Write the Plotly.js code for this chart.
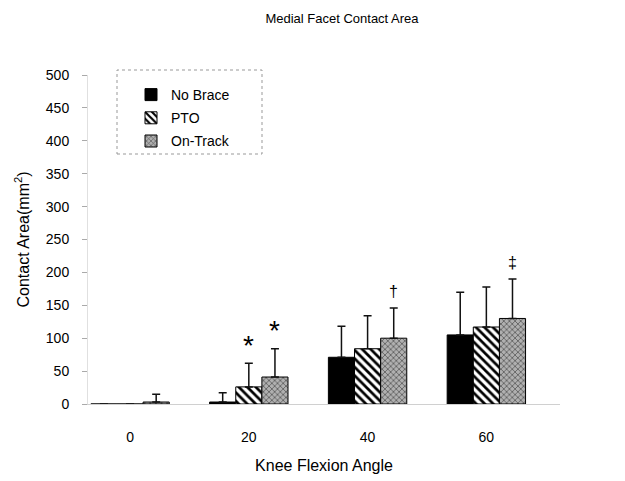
<!DOCTYPE html>
<html>
<head>
<meta charset="utf-8">
<script src="https://cdn.plot.ly/plotly-3.0.1.min.js"></script>
<style>html,body{margin:0;padding:0;background:#fff;}#chart{width:625px;height:481px;}</style>
</head>
<body>
<div id="chart"></div>
<script>
const angles = ["0", "20", "40", "60"];
const seriesNames = ["No Brace", "PTO", "On-Track"];
const noBrace = [0, 3, 71, 105];
const noBraceSD = [0, 14, 47, 65];
const pto = [0, 26, 84, 117];
const ptoSD = [0, 36, 50, 61];
const onTrack = [3, 41, 100, 130];
const onTrackSD = [12, 43, 46, 60];
// significance marks: [category index, series index, centre value, label]
const marks = [[1, 1, 99, "*"], [1, 2, 123, "*"], [2, 2, 172, "†"], [3, 2, 216, "‡"]];

const xs = angles.map((a, i) => i);
const barW = 0.22;
function errSpec(sd) {
  return {type: 'data', symmetric: false, array: sd, arrayminus: sd.map(() => 0),
          color: '#111', thickness: 1.5, width: 4, visible: true};
}
const FONT = 'Liberation Sans, Arial, sans-serif';
const traces = [
  {type: 'bar', name: seriesNames[0], legendgroup: 'g0', x: xs, y: noBrace, width: barW,
   marker: {color: '#000', line: {color: '#000', width: 1}}, error_y: errSpec(noBraceSD)},
  {type: 'bar', name: seriesNames[1], legendgroup: 'g1', x: xs, y: pto, width: barW,
   marker: {color: '#fff', line: {color: '#000', width: 1},
            pattern: {shape: '\\', fgcolor: '#000', bgcolor: '#fff', size: 6, solidity: 0.45}},
   error_y: errSpec(ptoSD)},
  {type: 'bar', name: seriesNames[2], legendgroup: 'g2', x: xs, y: onTrack, width: barW,
   marker: {color: '#a0a0a0', line: {color: '#000', width: 1},
            pattern: {shape: 'x', fgcolor: '#555', bgcolor: '#b0b0b0', size: 4, solidity: 0.35}},
   error_y: errSpec(onTrackSD)}
];

const offsets = [-barW, 0, barW];
const annotations = marks.map(m => ({
  x: m[0] + offsets[m[1]], y: m[2], xref: 'x', yref: 'y', text: m[3], showarrow: false,
  font: {family: FONT, size: m[3] === '*' ? 28 : 16, color: '#000'},
  yanchor: 'middle', yshift: m[3] === '*' ? -7 : -1
}));

const layout = {
  width: 625, height: 481,
  margin: {l: 88, r: 65, t: 75, b: 77},
  paper_bgcolor: '#fff', plot_bgcolor: '#fff',
  font: {family: FONT, size: 14, color: '#000'},
  title: {text: 'Medial Facet Contact Area', x: 342 / 625, xref: 'container', xanchor: 'center',
          y: 1 - 18 / 481, yref: 'container', yanchor: 'middle', font: {size: 13}},
  barmode: 'group', bargap: 0.34, bargroupgap: 0,
  xaxis: {range: [-0.354, 3.62], tickvals: xs, ticktext: angles, showgrid: false, zeroline: false,
          showline: true, linecolor: '#d0d0d0', linewidth: 1, ticks: '', ticklabelstandoff: 20,
          tickfont: {size: 14},
          title: {text: 'Knee Flexion Angle', standoff: 16, font: {size: 16}}},
  yaxis: {range: [0, 500], dtick: 50, showgrid: false, zeroline: false,
          showline: true, linecolor: '#e0e0e0', linewidth: 1, ticks: 'outside', ticklen: 5,
          tickcolor: '#aaa', ticklabelstandoff: 10, tickfont: {size: 14},
          title: {text: 'Contact Area(mm<sup>2</sup>)', standoff: 12, font: {size: 16}}},
  showlegend: true,
  legend: {x: (131 - 88) / 472, y: (404 - 79) / 329, xanchor: 'left', yanchor: 'top',
           bgcolor: 'rgba(0,0,0,0)', borderwidth: 0, font: {size: 14}, tracegroupgap: 2,
           itemwidth: 30},
  shapes: [{type: 'rect', xref: 'paper', yref: 'paper',
            x0: (117 - 88) / 472, x1: (262 - 88) / 472, y0: (404 - 154) / 329, y1: (404 - 70) / 329,
            line: {color: '#999', width: 1, dash: 'dot'}, fillcolor: 'rgba(0,0,0,0)'}],
  annotations: annotations
};

Plotly.newPlot('chart', traces, layout, {displayModeBar: false, staticPlot: true});
</script>
</body>
</html>
